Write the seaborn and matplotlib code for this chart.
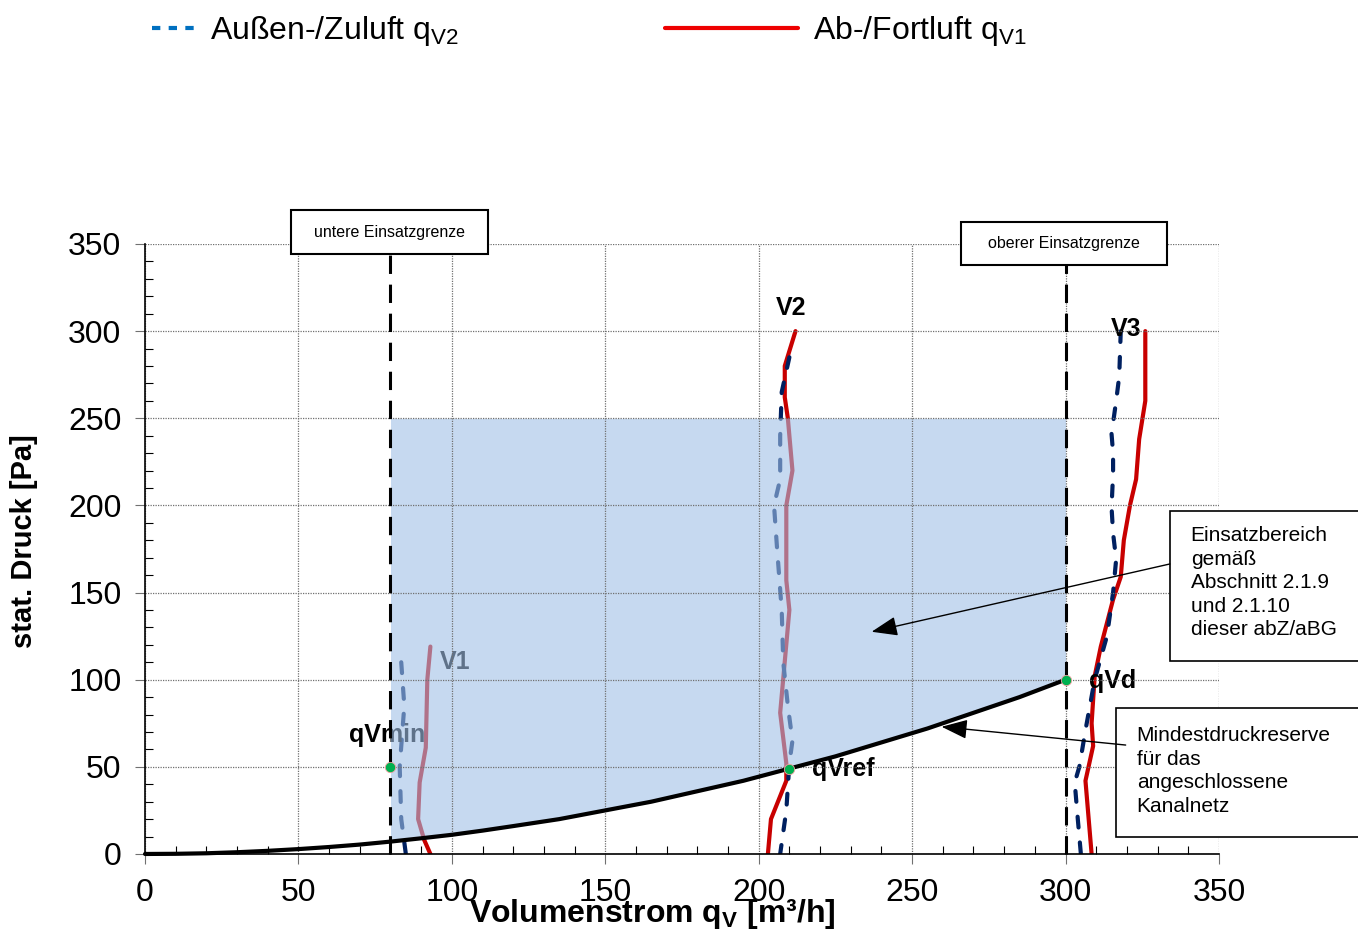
import numpy as np
import pandas as pd
import matplotlib
matplotlib.use('Agg')
import matplotlib.pyplot as plt
from matplotlib.lines import Line2D
from matplotlib.patches import Rectangle
from matplotlib.ticker import MultipleLocator
import seaborn as sns

# Anlagenkennlinie (Mindestdruckreserve)
sys_x = [0, 10, 20, 30, 40, 50, 60, 70, 80, 90, 100, 110, 120, 135, 150, 165,
         180, 195, 210, 225, 240, 255, 270, 285, 300]
sys_y = [0, 0.1, 0.4, 1, 1.8, 2.8, 4, 5.4, 7.1, 9, 11, 13.4, 16, 20, 25, 30,
         36, 42, 49, 56, 64, 72, 81, 90, 100]

# Einsatzgrenzen
qv_min = 80
qv_max = 300
fill_top = 250

# Kennpunkte qVmin, qVref, qVd
pt_x = [80, 210, 300]
pt_y = [50, 49, 100]

# Ab-/Fortluft (qV1) je Stufe
v1_exh_x = [93, 92, 91.5, 89.5, 89, 91, 93]
v1_exh_y = [119, 100, 61, 41, 20, 8, 0]
v2_exh_x = [212, 208.5, 208.5, 209.5, 211, 209, 209, 210, 207, 209, 209, 204, 203]
v2_exh_y = [300, 280, 262, 250, 220, 200, 157, 140, 81, 52, 42, 20, 0]
v3_exh_x = [326, 326, 324, 323, 321, 319, 318, 315.5, 311.5, 309.5, 308.5, 309, 306.5, 308.5]
v3_exh_y = [300, 260, 238, 215, 200, 180, 159, 146, 119, 102, 75, 62, 42, 0]

# Außen-/Zuluft (qV2) je Stufe
v1_sup_x = [83.5, 84.5, 83, 83.5, 85]
v1_sup_y = [110, 85, 50, 20, 0]
v2_sup_x = [210, 207.5, 207, 207, 205, 206, 207.5, 208, 209.5, 211, 210, 209, 207]
v2_sup_y = [285, 265, 240, 215, 200, 175, 140, 110, 85, 65, 52, 25, 0]
v3_sup_x = [318, 317.5, 316.5, 315, 315.5, 315.5, 315, 315.5, 316.5, 315.5, 313.5, 309.5, 306.5, 304.5, 303, 304, 305]
v3_sup_y = [300, 274, 260, 241, 230, 218, 199, 184, 169, 150, 125, 100, 71, 50, 41, 20, 0]

red = '#c80000'
navy = '#002060'

sns.set_style('ticks')
plt.rcParams['font.family'] = ['Liberation Sans', 'DejaVu Sans']
plt.rcParams['mathtext.default'] = 'regular'
plt.rcParams['text.color'] = 'black'
plt.rcParams['axes.labelcolor'] = 'black'
plt.rcParams['xtick.labelcolor'] = 'black'
plt.rcParams['ytick.labelcolor'] = 'black'
plt.rcParams['axes.edgecolor'] = 'black'

fig = plt.figure(figsize=(13.58, 9.33), dpi=100)
ax = fig.add_axes([0.1068, 0.0847, 0.7908, 0.6538])

for xs, ys in [(v1_exh_x, v1_exh_y), (v2_exh_x, v2_exh_y), (v3_exh_x, v3_exh_y)]:
    sns.lineplot(x=xs, y=ys, sort=False, estimator=None, color=red,
                 linewidth=3, ax=ax, zorder=2)
for xs, ys in [(v1_sup_x, v1_sup_y), (v2_sup_x, v2_sup_y), (v3_sup_x, v3_sup_y)]:
    sns.lineplot(x=xs, y=ys, sort=False, estimator=None, color=navy,
                 linewidth=3, linestyle=(0, (2.6, 3.6)), dash_capstyle='round',
                 ax=ax, zorder=2)

# Kurvenbeschriftungen (liegen unter der Flaeche)
lab = dict(fontsize=18, fontweight='bold', zorder=2.2)
ax.text(101, 110, 'V1', ha='center', va='center', **lab)
ax.text(210.5, 313, 'V2', ha='center', va='center', **lab)
ax.text(319.6, 301, 'V3', ha='center', va='center', **lab)
ax.text(66.5, 68, 'qVmin', ha='left', va='center', **lab)
ax.text(217.3, 49, 'qVref', ha='left', va='center', **lab)
ax.text(307.6, 99, 'qVd', ha='left', va='center', **lab)

# Einsatzbereich
fill_x = [x for x in sys_x if qv_min <= x <= qv_max]
fill_low = [y for x, y in zip(sys_x, sys_y) if qv_min <= x <= qv_max]
ax.fill_between(fill_x, fill_low, fill_top, color=(160/255, 192/255, 230/255),
                alpha=0.6, linewidth=0, zorder=2.4)

sns.lineplot(x=sys_x, y=sys_y, sort=False, estimator=None, color='black',
             linewidth=3, ax=ax, zorder=5, clip_on=False)
ax.vlines(qv_min, 0, 344, colors='black', linewidth=2.2,
          linestyles=(0, (6, 3.5)), zorder=5, clip_on=False)
ax.vlines(qv_max, 0, 338, colors='black', linewidth=2.2,
          linestyles=(0, (6, 3.5)), zorder=5, clip_on=False)
sns.scatterplot(x=pt_x, y=pt_y, color='#00b050', s=55, edgecolor='#f0a0a0',
                linewidth=0.6, ax=ax, zorder=6, clip_on=False)

ax.set_xlim(0, 350)
ax.set_ylim(0, 350)
ax.xaxis.set_major_locator(MultipleLocator(50))
ax.yaxis.set_major_locator(MultipleLocator(50))
ax.xaxis.set_minor_locator(MultipleLocator(10))
ax.yaxis.set_minor_locator(MultipleLocator(10))
ax.set_axisbelow(False)
ax.grid(True, which='major', linestyle=(0, (1, 1)), color='#707070', linewidth=0.9)
ax.tick_params(which='major', direction='out', length=7, width=0.8,
               color='#707070', labelsize=23, pad=10)
ax.tick_params(which='minor', direction='in', length=6, width=0.8, color='black')
sns.despine(ax=ax, top=True, right=True)
for s in ['left', 'bottom']:
    ax.spines[s].set_linewidth(1.2)
    ax.spines[s].set_zorder(4)

ax.set_ylabel('stat. Druck [Pa]', fontsize=21, fontweight='bold')
ax.yaxis.set_label_coords(-0.1, 0.513)
ax.set_xlabel(r'Volumenstrom q$_{\mathregular{V}}$ [m³/h]', fontsize=23,
              fontweight='bold')
ax.xaxis.set_label_coords(0.472, -0.07)

# Kaesten oben
for x0, y0, w, h, txt in [(47.6, 344.2, 64.2, 25.3, 'untere Einsatzgrenze'),
                          (265.9, 337.9, 67.1, 24.7, 'oberer Einsatzgrenze')]:
    ax.add_patch(Rectangle((x0, y0), w, h, facecolor='white', edgecolor='black',
                           linewidth=1.5, clip_on=False, zorder=6))
    ax.text(x0 + w / 2, y0 + h / 2, txt, ha='center', va='center',
            fontsize=11.5, zorder=7)

# Kaesten rechts mit Pfeilen
ax.add_patch(Rectangle((334, 110.7), 70, 86.1, facecolor='white', edgecolor='black',
                       linewidth=1.2, clip_on=False, zorder=6))
ax.text(340.8, 155.5, 'Einsatzbereich\ngemäß\nAbschnitt 2.1.9\nund 2.1.10\ndieser abZ/aBG',
        ha='left', va='center', fontsize=15, linespacing=1.3, zorder=7)
ax.add_patch(Rectangle((316.4, 9.8), 90, 74, facecolor='white', edgecolor='black',
                       linewidth=1.2, clip_on=False, zorder=6))
ax.text(323.2, 47.5, 'Mindestdruckreserve\nfür das\nangeschlossene\nKanalnetz',
        ha='left', va='center', fontsize=15, linespacing=1.3, zorder=7)
arrow = dict(arrowstyle='-|>,head_length=0.8,head_width=0.3', color='black',
             lw=1, mutation_scale=20, shrinkA=0, shrinkB=0)
ax.annotate('', xy=(236.8, 127.5), xytext=(334, 166.4), arrowprops=arrow,
            zorder=7, annotation_clip=False)
ax.annotate('', xy=(259.6, 73), xytext=(319.6, 62.5), arrowprops=arrow,
            zorder=7, annotation_clip=False)

# Legende
h1 = Line2D([], [], color='#0070c0', linewidth=3, linestyle=(0, (2, 2)))
h2 = Line2D([], [], color='#ee0000', linewidth=3)
leg1 = fig.legend(handles=[h1], labels=[r'Außen-/Zuluft q$_{\mathregular{V2}}$'],
                  loc='upper left', bbox_to_anchor=(0.112, 0.985), frameon=False,
                  borderpad=0, borderaxespad=0, handlelength=1.5, handletextpad=0.31,
                  prop={'size': 23})
leg2 = fig.legend(handles=[h2], labels=[r'Ab-/Fortluft q$_{\mathregular{V1}}$'],
                  loc='upper left', bbox_to_anchor=(0.49, 0.985), frameon=False,
                  borderpad=0, borderaxespad=0, handlelength=4.14, handletextpad=0.47,
                  prop={'size': 23})

plt.savefig('out.png', dpi=100)
